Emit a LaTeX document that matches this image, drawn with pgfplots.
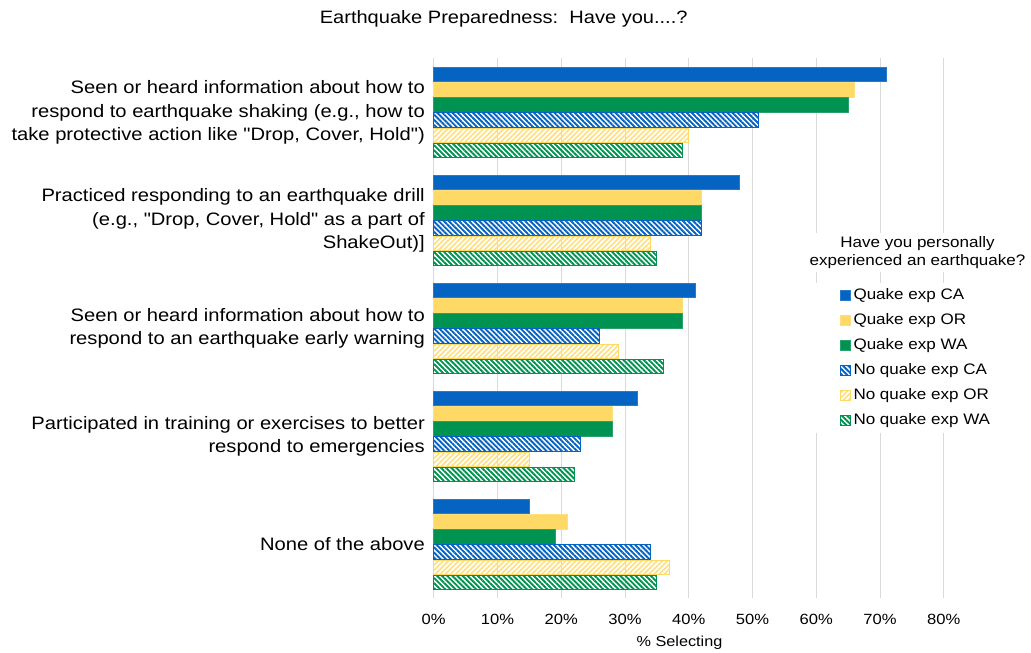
\documentclass[border=0pt]{standalone}
\usepackage{fontspec}
\setmainfont{Liberation Sans}
\newfontfamily\wide[FakeStretch=1.12]{Liberation Sans}
\usepackage{pgfplots}
\pgfplotsset{compat=1.18}
\usetikzlibrary{patterns.meta}
\definecolor{cCA}{RGB}{5,99,193}
\definecolor{cOR}{RGB}{255,217,102}
\definecolor{cWA}{RGB}{0,146,80}
\pgfplotsset{sq/.style={legend image code/.code={\draw[##1,line width=0.5pt] (0pt,-5pt) rectangle (10pt,5pt);}}}
\begin{document}
\begin{tikzpicture}
\begin{axis}[name=ax, scale only axis, width=510pt, height=540pt,
  xbar, bar width=14.5pt, clip=false,
  xmin=0, xmax=80, ymin=-0.5, ymax=4.5,
  xtick={0,10,...,80},
  xticklabels={0\%,10\%,20\%,30\%,40\%,50\%,60\%,70\%,80\%},
  ytick={0,...,4},
  yticklabels={{None of the above},
    {Participated in training or exercises to better\\respond to emergencies},
    {Seen or heard information about how to\\respond to an earthquake early warning},
    {Practiced responding to an earthquake drill\\(e.g., "Drop, Cover, Hold" as a part of\\ShakeOut)]},
    {Seen or heard information about how to\\respond to earthquake shaking (e.g., how to\\take protective action like "Drop, Cover, Hold")}},
  yticklabel style={align=right, font=\wide\fontsize{18}{23.5}\selectfont, inner sep=0pt, xshift=-8.7pt},
  xticklabel style={font=\wide\fontsize{14.8}{16}\selectfont, anchor=center, yshift=-20.5pt, inner sep=0pt},
  xlabel={\% Selecting},
  xlabel style={font=\wide\fontsize{14.5}{16}\selectfont, at={(axis description cs:0.482,0)}, anchor=center, yshift=-44.5pt},
  major tick length=0pt,
  axis line style={draw=none},
  xmajorgrids, ymajorgrids=false,
  major grid style={draw=black!15, line width=0.8pt},
  legend cell align=left,
  legend style={at={(rel axis cs:0.7379,0.5845)}, anchor=north west, draw=none, fill=white,
    inner xsep=30pt, inner ysep=3pt, outer sep=0pt,
    font=\wide\fontsize{15.2}{17}\selectfont, row sep=5.4pt, column sep=1pt,
    nodes={inner sep=2pt, text height=12pt, text depth=3.5pt}},
]
\addplot[sq, fill=cCA, draw=cCA!85!white, line width=0.6pt, bar shift=38pt]
  coordinates {(71,4) (48,3) (41,2) (32,1) (15,0)};
\addlegendentry{Quake exp CA}
\addplot[sq, fill=cOR, draw=cOR!85!white, line width=0.6pt, bar shift=22.8pt]
  coordinates {(66,4) (42,3) (39,2) (28,1) (21,0)};
\addlegendentry{Quake exp OR}
\addplot[sq, fill=cWA, draw=cWA!85!white, line width=0.6pt, bar shift=7.6pt]
  coordinates {(65,4) (42,3) (39,2) (28,1) (19,0)};
\addlegendentry{Quake exp WA}
\addplot[sq, draw=cCA, line width=0.8pt, pattern color=cCA,
  pattern={Lines[angle=-45,distance=3.6pt,line width=1.9pt]}, bar shift=-7.6pt]
  coordinates {(51,4) (42,3) (26,2) (23,1) (34,0)};
\addlegendentry{No quake exp CA}
\addplot[sq, draw=cOR, line width=0.8pt, pattern color=cOR!85!white,
  pattern={Lines[angle=45,distance=3.6pt,line width=1.6pt]}, bar shift=-22.8pt]
  coordinates {(40,4) (34,3) (29,2) (15,1) (37,0)};
\addlegendentry{No quake exp OR}
\addplot[sq, draw=cWA, line width=0.8pt, pattern color=cWA,
  pattern={Lines[angle=-45,distance=3.6pt,line width=1.9pt]}, bar shift=-38pt]
  coordinates {(39,4) (35,3) (36,2) (22,1) (35,0)};
\addlegendentry{No quake exp WA}
\end{axis}
\node[fill=white, align=center, inner sep=3pt, font=\wide\fontsize{15.2}{18}\selectfont]
  at ([xshift=483.8pt, yshift=346pt]ax.south west) {Have you personally\\experienced an earthquake?};
\node[font=\wide\fontsize{17.9}{20}\selectfont]
  at ([xshift=70pt, yshift=580pt]ax.south west) {Earthquake Preparedness:\ \ Have you....?};
\pgfresetboundingbox
\path[use as bounding box] ([xshift=-433.7pt,yshift=-54.5pt]ax.south west) rectangle ([xshift=87.3pt,yshift=58.5pt]ax.north east);
\end{tikzpicture}
\end{document}
